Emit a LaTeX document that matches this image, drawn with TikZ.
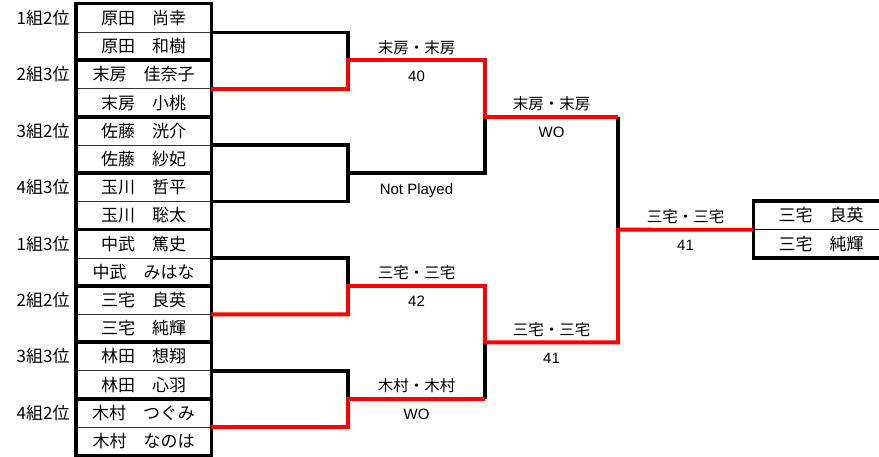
\documentclass[tikz,border=0pt]{standalone}
\usepackage{fontspec}
\setmainfont{Noto Sans CJK JP}
\newfontfamily\latinfont{Liberation Sans}
\usetikzlibrary{positioning}
\tikzset{
  namebox/.style={minimum width=135pt,minimum height=28.2pt,inner sep=0pt,font=\fontsize{17}{17}\selectfont},
  grplabel/.style={inner sep=0pt,font=\fontsize{17}{17}\selectfont},
  score/.style={inner sep=0pt,font=\fontsize{15.5}{15.5}\selectfont},
  result/.style={inner sep=0pt,font=\latinfont\fontsize{15}{15}\selectfont},
  boxline/.style={line width=3.4pt},
  sepline/.style={line width=0.8pt,black!80},
  lose/.style={line width=3.6pt},
  win/.style={line width=3.8pt,red},
}
\begin{document}
\begin{tikzpicture}[x=1pt,y=-1pt,line join=miter]
  \clip (0,0) rectangle (879,457);
  % players
  \foreach \nm [count=\i] in {原田　尚幸,原田　和樹,末房　佳奈子,末房　小桃,佐藤　洸介,佐藤　紗妃,玉川　哲平,玉川　聡太,
                               中武　篤史,中武　みはな,三宅　良英,三宅　純輝,林田　想翔,林田　心羽,木村　つぐみ,木村　なのは}
    \node[namebox] (n\i) at (143.5,{4+28.2*(\i-0.5)}) {\nm};
  % pair boxes
  \foreach \a/\b [count=\j] in {1/2,3/4,5/6,7/8,9/10,11/12,13/14,15/16}{
    \draw[sepline] (n\a.south west) -- (n\a.south east);
    \draw[boxline] (n\a.north west) rectangle (n\b.south east);
    \coordinate (p\j) at (n\a.south east);
  }
  % group labels
  \foreach \lb [count=\j] in {1組2位,2組3位,3組2位,4組3位,1組3位,2組2位,3組3位,4組2位}{
    \pgfmathtruncatemacro{\k}{2*\j-1}
    \node[grplabel,left=6pt of n\k] (g\j) {\lb};
  }
  % match points
  \coordinate (m1) at (348,60.4);
  \coordinate (m2) at (348,173.2);
  \coordinate (m3) at (348,286);
  \coordinate (m4) at (348,398.8);
  \coordinate (r1) at (485,116.8);
  \coordinate (r2) at (485,342.4);
  \coordinate (f)  at (618,229.6);
  % champion
  \node[namebox] (w1) at (821,215.5) {三宅　良英};
  \node[namebox] (w2) at (821,243.7) {三宅　純輝};
  \draw[sepline,black] (w1.south west) -- (w1.south east);
  \draw[boxline] (w1.north west) rectangle (w2.south east);
  % losing lines
  \draw[lose] (p1) -| (m1);
  \draw[lose] (p3) -| (m2) |- (p4);
  \draw[lose] (m2) -| (r1);
  \draw[lose] (r1 -| f) -- (f);
  \draw[lose] (p5) -| (m3);
  \draw[lose] (p7) -| (m4);
  \draw[lose] (m4 -| r2) -- (r2);
  % winning lines
  \draw[win] (p2) -| (m1) -| (r1) -- (r1 -| f);
  \draw[win] (p6) -| (m3) -| (r2) -| (f) -- (w1.south west);
  \draw[win] (p8) -| (m4) -- (m4 -| r2);
  % results
  \foreach \x/\y/\hi/\lo [count=\k] in {416.5/60.4/末房・末房/40,416.5/286/三宅・三宅/42,416.5/398.8/木村・木村/WO,
                                         551.5/116.8/末房・末房/WO,551.5/342.4/三宅・三宅/41,685.5/229.6/三宅・三宅/41}{
    \node[score] (hi\k) at (\x,{\y-13}) {\hi};
    \node[result] (lo\k) at (\x,{\y+15.5}) {\lo};
  }
  \node[result] (np) at (416.5,191) {Not Played};
\end{tikzpicture}
\end{document}
